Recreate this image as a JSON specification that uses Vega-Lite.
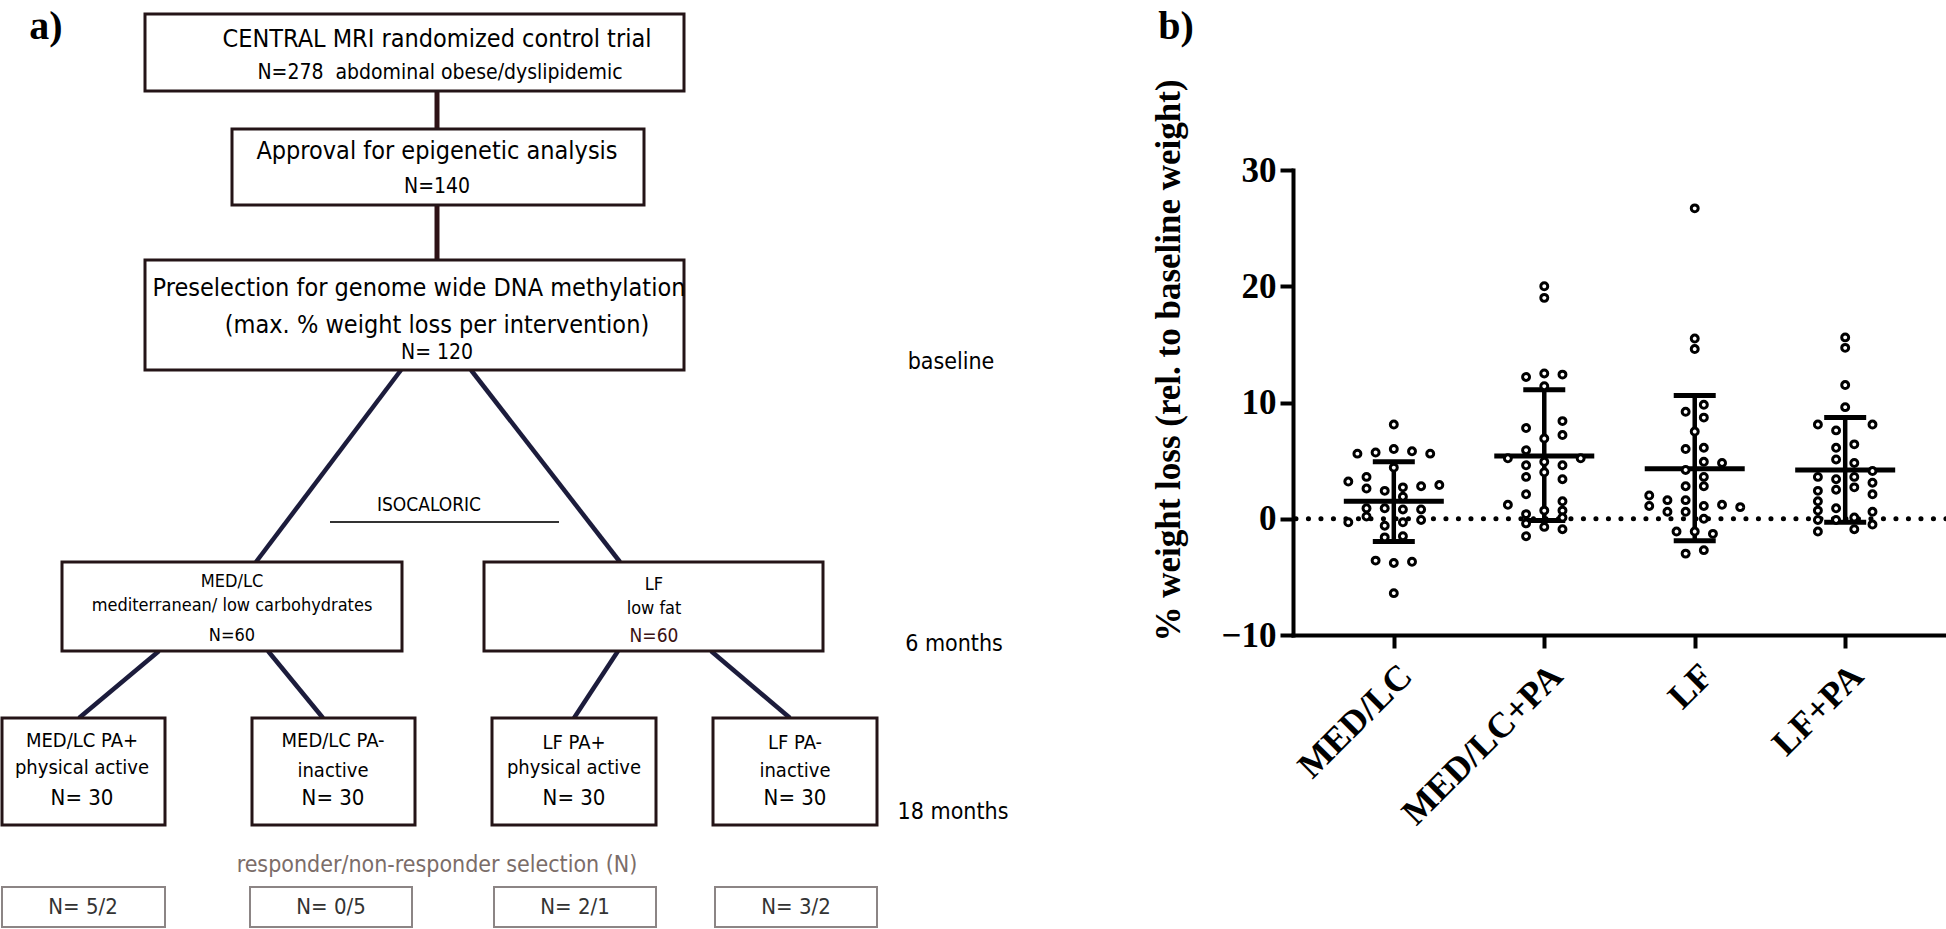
{
  "$schema": "https://vega.github.io/schema/vega-lite/v6.json",
  "padding": 0,
  "bounds": "flush",
  "spacing": 293,
  "background": "white",
  "config": {
    "view": {"stroke": null},
    "axis": {"grid": false, "domainColor": "black", "tickColor": "black", "labelColor": "black", "titleColor": "black"}
  },
  "hconcat": [
    {
      "width": 1000,
      "height": 929,
      "layer": [
        {
          "data": {"values": [
            {"x1": 437, "y1": 91, "x2": 437, "y2": 129},
            {"x1": 437, "y1": 205, "x2": 437, "y2": 260}
          ]},
          "mark": {"type": "rule", "color": "#2e1216", "strokeWidth": 5},
          "encoding": {
            "x": {"field": "x1", "type": "quantitative", "scale": {"domain": [0, 1000], "nice": false, "zero": false}, "axis": null},
            "y": {"field": "y1", "type": "quantitative", "scale": {"domain": [0, 929], "reverse": true, "nice": false, "zero": false}, "axis": null},
            "x2": {"field": "x2"},
            "y2": {"field": "y2"}
          }
        },
        {
          "data": {"values": [
            {"x1": 401, "y1": 370, "x2": 256, "y2": 562},
            {"x1": 471, "y1": 370, "x2": 620, "y2": 562},
            {"x1": 159, "y1": 651, "x2": 79, "y2": 718},
            {"x1": 268, "y1": 651, "x2": 323, "y2": 718},
            {"x1": 618, "y1": 651, "x2": 574, "y2": 718},
            {"x1": 711, "y1": 651, "x2": 790, "y2": 718}
          ]},
          "mark": {"type": "rule", "color": "#1c1c3c", "strokeWidth": 4.5},
          "encoding": {
            "x": {"field": "x1", "type": "quantitative"},
            "y": {"field": "y1", "type": "quantitative"},
            "x2": {"field": "x2"},
            "y2": {"field": "y2"}
          }
        },
        {
          "data": {"values": [{"x1": 330, "y1": 522, "x2": 559, "y2": 522}]},
          "mark": {"type": "rule", "color": "#333333", "strokeWidth": 2},
          "encoding": {
            "x": {"field": "x1", "type": "quantitative"},
            "y": {"field": "y1", "type": "quantitative"},
            "x2": {"field": "x2"},
            "y2": {"field": "y2"}
          }
        },
        {
          "data": {"values": [
            {"x1": 145, "y1": 14, "x2": 684, "y2": 91},
            {"x1": 232, "y1": 129, "x2": 644, "y2": 205},
            {"x1": 145, "y1": 260, "x2": 684, "y2": 370},
            {"x1": 62, "y1": 562, "x2": 402, "y2": 651},
            {"x1": 484, "y1": 562, "x2": 823, "y2": 651},
            {"x1": 2, "y1": 718, "x2": 165, "y2": 825},
            {"x1": 252, "y1": 718, "x2": 415, "y2": 825},
            {"x1": 492, "y1": 718, "x2": 656, "y2": 825},
            {"x1": 713, "y1": 718, "x2": 877, "y2": 825}
          ]},
          "mark": {"type": "rect", "fill": "white", "stroke": "#241417", "strokeWidth": 3},
          "encoding": {
            "x": {"field": "x1", "type": "quantitative"},
            "y": {"field": "y1", "type": "quantitative"},
            "x2": {"field": "x2"},
            "y2": {"field": "y2"}
          }
        },
        {
          "data": {"values": [
            {"x1": 2, "y1": 887, "x2": 165, "y2": 927},
            {"x1": 250, "y1": 887, "x2": 412, "y2": 927},
            {"x1": 494, "y1": 887, "x2": 656, "y2": 927},
            {"x1": 715, "y1": 887, "x2": 877, "y2": 927}
          ]},
          "mark": {"type": "rect", "fill": "white", "stroke": "#8c8585", "strokeWidth": 2},
          "encoding": {
            "x": {"field": "x1", "type": "quantitative"},
            "y": {"field": "y1", "type": "quantitative"},
            "x2": {"field": "x2"},
            "y2": {"field": "y2"}
          }
        },
        {
          "data": {"name": "labels", "values": [
            {"t": "CENTRAL MRI randomized control trial", "x": 437, "y": 39, "role": "big"},
            {"t": "N=278\u00a0\u00a0abdominal obese/dyslipidemic", "x": 440, "y": 73, "role": "mid"},
            {"t": "Approval for epigenetic analysis", "x": 437, "y": 151, "role": "big"},
            {"t": "N=140", "x": 437, "y": 187, "role": "mid"},
            {"t": "Preselection for genome wide DNA methylation", "x": 419, "y": 288, "role": "big"},
            {"t": "(max. % weight loss per intervention)", "x": 437, "y": 325, "role": "big"},
            {"t": "N= 120", "x": 437, "y": 353, "role": "mid"},
            {"t": "baseline", "x": 951, "y": 362, "role": "time"},
            {"t": "ISOCALORIC", "x": 429, "y": 505, "role": "iso"},
            {"t": "MED/LC", "x": 232, "y": 582, "role": "arm"},
            {"t": "mediterranean/ low carbohydrates", "x": 232, "y": 606, "role": "arm"},
            {"t": "N=60", "x": 232, "y": 636, "role": "arm"},
            {"t": "LF", "x": 654, "y": 585, "role": "arm"},
            {"t": "low fat", "x": 654, "y": 609, "role": "arm"},
            {"t": "N=60", "x": 654, "y": 636, "role": "armN"},
            {"t": "6 months", "x": 954, "y": 644, "role": "time"},
            {"t": "MED/LC PA+", "x": 82, "y": 741, "role": "pa"},
            {"t": "physical active", "x": 82, "y": 768, "role": "pa"},
            {"t": "N= 30", "x": 82, "y": 798, "role": "n30"},
            {"t": "MED/LC PA-", "x": 333, "y": 741, "role": "pa"},
            {"t": "inactive", "x": 333, "y": 771, "role": "pa"},
            {"t": "N= 30", "x": 333, "y": 798, "role": "n30"},
            {"t": "LF PA+", "x": 574, "y": 743, "role": "pa"},
            {"t": "physical active", "x": 574, "y": 768, "role": "pa"},
            {"t": "N= 30", "x": 574, "y": 798, "role": "n30"},
            {"t": "LF PA-", "x": 795, "y": 743, "role": "pa"},
            {"t": "inactive", "x": 795, "y": 771, "role": "pa"},
            {"t": "N= 30", "x": 795, "y": 798, "role": "n30"},
            {"t": "18 months", "x": 953, "y": 812, "role": "time"},
            {"t": "responder/non-responder selection (N)", "x": 437, "y": 865, "role": "resp"},
            {"t": "N= 5/2", "x": 83, "y": 907, "role": "sel"},
            {"t": "N= 0/5", "x": 331, "y": 907, "role": "sel"},
            {"t": "N= 2/1", "x": 575, "y": 907, "role": "sel"},
            {"t": "N= 3/2", "x": 796, "y": 907, "role": "sel"}
          ]},
          "layer": [
            {
              "transform": [{"filter": "datum.role === 'big'"}],
              "mark": {"type": "text", "font": "DejaVu Sans Condensed, Liberation Sans Narrow, sans-serif", "fontSize": 25, "color": "black", "align": "center", "baseline": "middle"},
              "encoding": {"x": {"field": "x", "type": "quantitative"}, "y": {"field": "y", "type": "quantitative"}, "text": {"field": "t"}}
            },
            {
              "transform": [{"filter": "datum.role === 'mid'"}],
              "mark": {"type": "text", "font": "DejaVu Sans Condensed, Liberation Sans Narrow, sans-serif", "fontSize": 21, "color": "black", "align": "center", "baseline": "middle"},
              "encoding": {"x": {"field": "x", "type": "quantitative"}, "y": {"field": "y", "type": "quantitative"}, "text": {"field": "t"}}
            },
            {
              "transform": [{"filter": "datum.role === 'time'"}],
              "mark": {"type": "text", "font": "DejaVu Sans Condensed, Liberation Sans Narrow, sans-serif", "fontSize": 23, "color": "black", "align": "center", "baseline": "middle"},
              "encoding": {"x": {"field": "x", "type": "quantitative"}, "y": {"field": "y", "type": "quantitative"}, "text": {"field": "t"}}
            },
            {
              "transform": [{"filter": "datum.role === 'iso'"}],
              "mark": {"type": "text", "font": "DejaVu Sans Condensed, Liberation Sans Narrow, sans-serif", "fontSize": 19, "color": "black", "align": "center", "baseline": "middle"},
              "encoding": {"x": {"field": "x", "type": "quantitative"}, "y": {"field": "y", "type": "quantitative"}, "text": {"field": "t"}}
            },
            {
              "transform": [{"filter": "datum.role === 'arm'"}],
              "mark": {"type": "text", "font": "DejaVu Sans Condensed, Liberation Sans Narrow, sans-serif", "fontSize": 18, "color": "black", "align": "center", "baseline": "middle"},
              "encoding": {"x": {"field": "x", "type": "quantitative"}, "y": {"field": "y", "type": "quantitative"}, "text": {"field": "t"}}
            },
            {
              "transform": [{"filter": "datum.role === 'armN'"}],
              "mark": {"type": "text", "font": "DejaVu Sans Condensed, Liberation Sans Narrow, sans-serif", "fontSize": 19, "color": "#3b1214", "align": "center", "baseline": "middle"},
              "encoding": {"x": {"field": "x", "type": "quantitative"}, "y": {"field": "y", "type": "quantitative"}, "text": {"field": "t"}}
            },
            {
              "transform": [{"filter": "datum.role === 'pa'"}],
              "mark": {"type": "text", "font": "DejaVu Sans Condensed, Liberation Sans Narrow, sans-serif", "fontSize": 20, "color": "black", "align": "center", "baseline": "middle"},
              "encoding": {"x": {"field": "x", "type": "quantitative"}, "y": {"field": "y", "type": "quantitative"}, "text": {"field": "t"}}
            },
            {
              "transform": [{"filter": "datum.role === 'n30'"}],
              "mark": {"type": "text", "font": "DejaVu Sans Condensed, Liberation Sans Narrow, sans-serif", "fontSize": 22, "color": "black", "align": "center", "baseline": "middle"},
              "encoding": {"x": {"field": "x", "type": "quantitative"}, "y": {"field": "y", "type": "quantitative"}, "text": {"field": "t"}}
            },
            {
              "transform": [{"filter": "datum.role === 'resp'"}],
              "mark": {"type": "text", "font": "DejaVu Sans Condensed, Liberation Sans Narrow, sans-serif", "fontSize": 23, "color": "#7b6d69", "align": "center", "baseline": "middle"},
              "encoding": {"x": {"field": "x", "type": "quantitative"}, "y": {"field": "y", "type": "quantitative"}, "text": {"field": "t"}}
            },
            {
              "transform": [{"filter": "datum.role === 'sel'"}],
              "mark": {"type": "text", "font": "DejaVu Sans Condensed, Liberation Sans Narrow, sans-serif", "fontSize": 22, "color": "#333333", "align": "center", "baseline": "middle"},
              "encoding": {"x": {"field": "x", "type": "quantitative"}, "y": {"field": "y", "type": "quantitative"}, "text": {"field": "t"}}
            }
          ]
        },
        {
          "data": {"values": [
            {"t": "a)", "x": 46, "y": 27},
            {"t": "b)", "x": 1176, "y": 27}
          ]},
          "mark": {"type": "text", "font": "Liberation Serif", "fontWeight": "bold", "fontSize": 40, "color": "black", "align": "center", "baseline": "middle"},
          "encoding": {"x": {"field": "x", "type": "quantitative"}, "y": {"field": "y", "type": "quantitative"}, "text": {"field": "t"}}
        }
      ]
    },
    {
      "width": 653,
      "height": 635,
      "encoding": {
        "x": {
          "field": "group", "type": "nominal",
          "scale": {"type": "point", "domain": ["MED/LC", "MED/LC+PA", "LF", "LF+PA"], "padding": 0.67},
          "axis": {"title": null, "labelAngle": -45, "labelLimit": 500, "labelFont": "Liberation Serif", "labelFontWeight": "bold", "labelFontSize": 36, "labelPadding": 10, "domainWidth": 4, "domainCap": "square", "tickWidth": 4, "tickSize": 13}
        }
      },
      "layer": [
        {
          "data": {"values": [{"zero": 0}]},
          "mark": {"type": "rule", "color": "black", "strokeWidth": 5, "strokeDash": [0.1, 12.4], "strokeCap": "round"},
          "encoding": {
            "x": null,
            "y": {
              "field": "zero", "type": "quantitative",
              "scale": {"domain": [-10, 30], "range": [635, 170], "nice": false, "zero": false},
              "axis": {
                "values": [-10, 0, 10, 20, 30],
                "title": "% weight loss (rel. to baseline weight)",
                "titleFont": "Liberation Serif", "titleFontWeight": "bold", "titleFontSize": 35,
                "titleAngle": 270, "titleX": -125, "titleY": 360, "titleAlign": "center", "titleBaseline": "middle",
                "labelFont": "Liberation Serif", "labelFontWeight": "bold", "labelFontSize": 35, "labelPadding": 4,
                "domainWidth": 4, "domainCap": "square", "tickWidth": 4, "tickSize": 13
              }
            }
          }
        },
        {
          "data": {"name": "summary", "values": [
            {"group": "MED/LC", "mean": 1.5, "lo": -1.95, "hi": 4.9},
            {"group": "MED/LC+PA", "mean": 5.4, "lo": -0.15, "hi": 11.1},
            {"group": "LF", "mean": 4.3, "lo": -1.9, "hi": 10.6},
            {"group": "LF+PA", "mean": 4.2, "lo": -0.3, "hi": 8.7}
          ]},
          "layer": [
            {
              "mark": {"type": "rule", "color": "black", "strokeWidth": 4.5},
              "encoding": {"y": {"field": "lo", "type": "quantitative"}, "y2": {"field": "hi"}}
            },
            {
              "mark": {"type": "tick", "orient": "horizontal", "color": "black", "thickness": 5, "size": 100, "opacity": 1},
              "encoding": {"y": {"field": "mean", "type": "quantitative"}}
            },
            {
              "mark": {"type": "tick", "orient": "horizontal", "color": "black", "thickness": 5, "size": 42, "opacity": 1},
              "encoding": {"y": {"field": "lo", "type": "quantitative"}}
            },
            {
              "mark": {"type": "tick", "orient": "horizontal", "color": "black", "thickness": 5, "size": 42, "opacity": 1},
              "encoding": {"y": {"field": "hi", "type": "quantitative"}}
            }
          ]
        },
        {
          "data": {"name": "points", "values": [
            {"group": "MED/LC", "v": 8.1, "slot": 0},
            {"group": "MED/LC", "v": 5.6, "slot": -4},
            {"group": "MED/LC", "v": 5.7, "slot": -2},
            {"group": "MED/LC", "v": 6.0, "slot": 0},
            {"group": "MED/LC", "v": 5.8, "slot": 2},
            {"group": "MED/LC", "v": 5.6, "slot": 4},
            {"group": "MED/LC", "v": 4.4, "slot": 0},
            {"group": "MED/LC", "v": 3.6, "slot": -3},
            {"group": "MED/LC", "v": 3.2, "slot": -5},
            {"group": "MED/LC", "v": 2.6, "slot": -3},
            {"group": "MED/LC", "v": 2.4, "slot": -1},
            {"group": "MED/LC", "v": 2.7, "slot": 1},
            {"group": "MED/LC", "v": 2.8, "slot": 3},
            {"group": "MED/LC", "v": 2.9, "slot": 5},
            {"group": "MED/LC", "v": 1.9, "slot": 1},
            {"group": "MED/LC", "v": 0.9, "slot": -3},
            {"group": "MED/LC", "v": 0.9, "slot": -1},
            {"group": "MED/LC", "v": 0.8, "slot": 1},
            {"group": "MED/LC", "v": 0.8, "slot": 3},
            {"group": "MED/LC", "v": 0.2, "slot": -3},
            {"group": "MED/LC", "v": -0.3, "slot": -5},
            {"group": "MED/LC", "v": -0.6, "slot": -1},
            {"group": "MED/LC", "v": -0.3, "slot": 1},
            {"group": "MED/LC", "v": -0.1, "slot": 3},
            {"group": "MED/LC", "v": -1.6, "slot": -1},
            {"group": "MED/LC", "v": -1.5, "slot": 1},
            {"group": "MED/LC", "v": -3.6, "slot": -2},
            {"group": "MED/LC", "v": -3.8, "slot": 0},
            {"group": "MED/LC", "v": -3.7, "slot": 2},
            {"group": "MED/LC", "v": -6.4, "slot": 0},
            {"group": "MED/LC+PA", "v": 20.0, "slot": 0},
            {"group": "MED/LC+PA", "v": 19.0, "slot": 0},
            {"group": "MED/LC+PA", "v": 12.2, "slot": -2},
            {"group": "MED/LC+PA", "v": 12.5, "slot": 0},
            {"group": "MED/LC+PA", "v": 12.4, "slot": 2},
            {"group": "MED/LC+PA", "v": 11.4, "slot": 0},
            {"group": "MED/LC+PA", "v": 7.8, "slot": -2},
            {"group": "MED/LC+PA", "v": 8.4, "slot": 2},
            {"group": "MED/LC+PA", "v": 6.9, "slot": 0},
            {"group": "MED/LC+PA", "v": 7.2, "slot": 2},
            {"group": "MED/LC+PA", "v": 5.9, "slot": -2},
            {"group": "MED/LC+PA", "v": 5.2, "slot": -4},
            {"group": "MED/LC+PA", "v": 5.2, "slot": 4},
            {"group": "MED/LC+PA", "v": 4.6, "slot": -2},
            {"group": "MED/LC+PA", "v": 4.9, "slot": 0},
            {"group": "MED/LC+PA", "v": 4.6, "slot": 2},
            {"group": "MED/LC+PA", "v": 4.0, "slot": 0},
            {"group": "MED/LC+PA", "v": 3.6, "slot": -2},
            {"group": "MED/LC+PA", "v": 3.4, "slot": 2},
            {"group": "MED/LC+PA", "v": 2.1, "slot": -2},
            {"group": "MED/LC+PA", "v": 1.2, "slot": -4},
            {"group": "MED/LC+PA", "v": 1.5, "slot": 2},
            {"group": "MED/LC+PA", "v": 0.4, "slot": -2},
            {"group": "MED/LC+PA", "v": 0.7, "slot": 0},
            {"group": "MED/LC+PA", "v": 0.7, "slot": 2},
            {"group": "MED/LC+PA", "v": -0.4, "slot": -2},
            {"group": "MED/LC+PA", "v": 0.1, "slot": 2},
            {"group": "MED/LC+PA", "v": -0.7, "slot": 0},
            {"group": "MED/LC+PA", "v": -0.9, "slot": 2},
            {"group": "MED/LC+PA", "v": -1.5, "slot": -2},
            {"group": "LF", "v": 26.7, "slot": 0},
            {"group": "LF", "v": 15.5, "slot": 0},
            {"group": "LF", "v": 14.6, "slot": 0},
            {"group": "LF", "v": 9.2, "slot": -1},
            {"group": "LF", "v": 9.8, "slot": 1},
            {"group": "LF", "v": 8.7, "slot": 1},
            {"group": "LF", "v": 7.5, "slot": 0},
            {"group": "LF", "v": 6.0, "slot": -1},
            {"group": "LF", "v": 6.1, "slot": 1},
            {"group": "LF", "v": 4.9, "slot": 1},
            {"group": "LF", "v": 4.8, "slot": 3},
            {"group": "LF", "v": 4.2, "slot": -1},
            {"group": "LF", "v": 3.6, "slot": 1},
            {"group": "LF", "v": 2.8, "slot": -1},
            {"group": "LF", "v": 2.8, "slot": 1},
            {"group": "LF", "v": 2.0, "slot": -5},
            {"group": "LF", "v": 1.1, "slot": -5},
            {"group": "LF", "v": 1.6, "slot": -3},
            {"group": "LF", "v": 1.6, "slot": -1},
            {"group": "LF", "v": 1.1, "slot": 1},
            {"group": "LF", "v": 1.2, "slot": 3},
            {"group": "LF", "v": 1.0, "slot": 5},
            {"group": "LF", "v": 0.6, "slot": -3},
            {"group": "LF", "v": 0.6, "slot": -1},
            {"group": "LF", "v": 0.0, "slot": 1},
            {"group": "LF", "v": -1.1, "slot": -2},
            {"group": "LF", "v": -1.1, "slot": 0},
            {"group": "LF", "v": -1.3, "slot": 2},
            {"group": "LF", "v": -3.0, "slot": -1},
            {"group": "LF", "v": -2.7, "slot": 1},
            {"group": "LF+PA", "v": 15.6, "slot": 0},
            {"group": "LF+PA", "v": 14.7, "slot": 0},
            {"group": "LF+PA", "v": 11.5, "slot": 0},
            {"group": "LF+PA", "v": 9.6, "slot": 0},
            {"group": "LF+PA", "v": 8.1, "slot": -3},
            {"group": "LF+PA", "v": 8.1, "slot": 3},
            {"group": "LF+PA", "v": 7.6, "slot": -1},
            {"group": "LF+PA", "v": 6.1, "slot": -1},
            {"group": "LF+PA", "v": 6.4, "slot": 1},
            {"group": "LF+PA", "v": 5.1, "slot": -1},
            {"group": "LF+PA", "v": 4.8, "slot": 1},
            {"group": "LF+PA", "v": 4.1, "slot": 3},
            {"group": "LF+PA", "v": 3.6, "slot": -3},
            {"group": "LF+PA", "v": 3.4, "slot": -1},
            {"group": "LF+PA", "v": 3.6, "slot": 1},
            {"group": "LF+PA", "v": 3.1, "slot": 3},
            {"group": "LF+PA", "v": 2.7, "slot": 1},
            {"group": "LF+PA", "v": 2.4, "slot": -3},
            {"group": "LF+PA", "v": 2.5, "slot": -1},
            {"group": "LF+PA", "v": 2.1, "slot": 3},
            {"group": "LF+PA", "v": 1.5, "slot": -3},
            {"group": "LF+PA", "v": 0.9, "slot": -1},
            {"group": "LF+PA", "v": 0.7, "slot": -3},
            {"group": "LF+PA", "v": 0.6, "slot": 3},
            {"group": "LF+PA", "v": -0.1, "slot": -3},
            {"group": "LF+PA", "v": -0.1, "slot": -1},
            {"group": "LF+PA", "v": 0.1, "slot": 1},
            {"group": "LF+PA", "v": -0.5, "slot": 3},
            {"group": "LF+PA", "v": -1.1, "slot": -3},
            {"group": "LF+PA", "v": -0.9, "slot": 1}
          ]},
          "mark": {"type": "point", "shape": "circle", "filled": false, "fill": "white", "stroke": "black", "strokeWidth": 3, "size": 48, "opacity": 1},
          "encoding": {
            "y": {"field": "v", "type": "quantitative"},
            "xOffset": {"field": "slot", "type": "quantitative", "scale": {"domain": [-5, 5], "range": [-45.5, 45.5]}}
          }
        }
      ]
    }
  ]
}
